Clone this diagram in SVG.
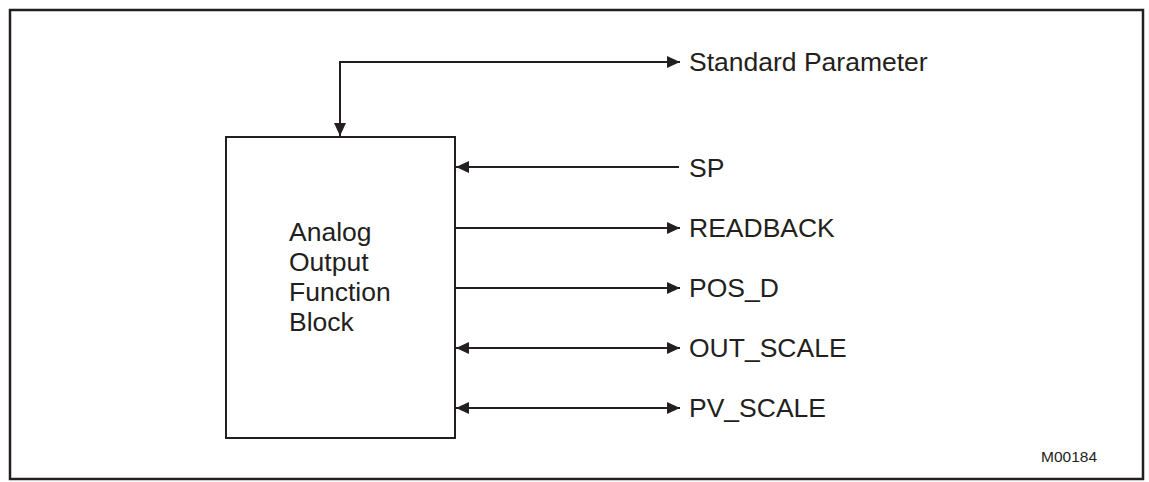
<svg xmlns="http://www.w3.org/2000/svg" width="1149" height="482" viewBox="0 0 1149 482">
<style>
.ln{fill:none;stroke:#231f20;stroke-width:2}
.t{font-family:"Liberation Sans",Arial,sans-serif;font-size:26.5px;fill:#231f20}
.s{font-family:"Liberation Sans",Arial,sans-serif;font-size:15.5px;fill:#231f20}
</style>
<defs>
<marker id="ah" markerUnits="userSpaceOnUse" markerWidth="13" markerHeight="13" viewBox="0 0 13 13" refX="13" refY="6.5" orient="auto-start-reverse">
<path d="M0,0.5 L13,6.5 L0,12.5 z" fill="#231f20"/>
</marker>
</defs>
<rect x="10" y="10" width="1133" height="469" fill="#fff" stroke="#231f20" stroke-width="2.5"/>
<g id="block">
<rect x="226" y="137" width="229" height="301" fill="#fff" stroke="#231f20" stroke-width="2"/>
<text class="t" x="289" y="241">Analog</text>
<text class="t" x="289" y="271">Output</text>
<text class="t" x="289" y="301">Function</text>
<text class="t" x="289" y="331">Block</text>
</g>
<g id="connectors">
<path class="ln" d="M340,136 V62 H680" marker-start="url(#ah)" marker-end="url(#ah)"/>
<path class="ln" d="M679,167 H456" marker-end="url(#ah)"/>
<path class="ln" d="M455,228 H680" marker-end="url(#ah)"/>
<path class="ln" d="M455,288 H680" marker-end="url(#ah)"/>
<path class="ln" d="M456,348 H680" marker-start="url(#ah)" marker-end="url(#ah)"/>
<path class="ln" d="M456,408 H680" marker-start="url(#ah)" marker-end="url(#ah)"/>
</g>
<g id="labels">
<text class="t" x="689" y="71">Standard Parameter</text>
<text class="t" x="689" y="177">SP</text>
<text class="t" x="689" y="237">READBACK</text>
<text class="t" x="689" y="297">POS_D</text>
<text class="t" x="689" y="357">OUT_SCALE</text>
<text class="t" x="689" y="417">PV_SCALE</text>
</g>
<text class="s" x="1041" y="462">M00184</text>
</svg>
